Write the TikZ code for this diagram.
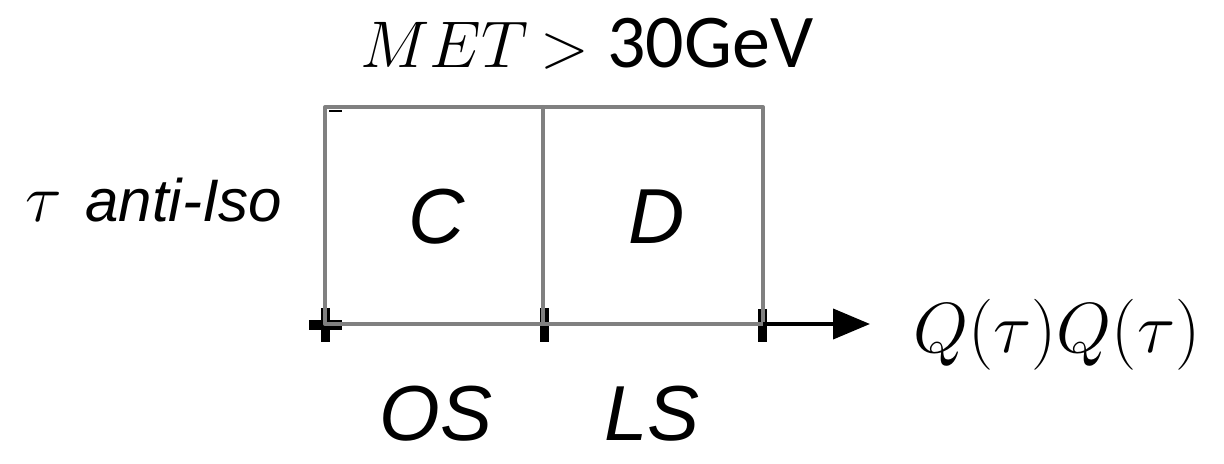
\RequirePackage{fix-cm}
\documentclass[tikz,border=0pt]{standalone}
\usepackage{fontspec}
\usetikzlibrary{arrows.meta}
\newfontfamily\arialfont{Liberation Sans}
\newfontfamily\calibrifont{Carlito}
\begin{document}
\begin{tikzpicture}[x=0.5pt,y=-0.5pt,
  boxline/.style={draw=black!50, line width=2pt, line cap=round, line join=round},
  tickmark/.style={draw=black, line width=4.5pt},
  axisline/.style={draw=black, line width=2pt, -{Triangle[length=18.5pt,width=15pt]}},
  celllabel/.style={font=\fontsize{39pt}{44pt}\selectfont\arialfont\itshape, anchor=base, inner sep=0pt},
  mathlabel/.style={font=\fontsize{34pt}{40pt}\selectfont, anchor=base west, inner sep=0pt}]
\useasboundingbox (0,0) rectangle (1224,464);
% corner coordinates
\coordinate (tl) at (325,107);
\coordinate (tm) at (543,107);
\coordinate (tr) at (763,107);
\coordinate (bl) at (325,324);
\coordinate (bm) at (543,324);
\coordinate (br) at (763,324);
\coordinate (axend) at (870,324);
% ticks
\draw[tickmark] (309,325) -- (342,325);
\draw[tickmark] (325,308) -- (325,342);
\draw[tickmark] (544,308) -- (544,342);
\draw[tickmark] (762,309) -- (762,342);
\draw[draw=black, line width=1.2pt] (329,111) -- (342,111);
% box
\draw[boxline] (bl) -- (tl) -- (tr) -- (br) -- cycle;
\draw[boxline] (tm) -- (bm);
% axis
\draw[axisline] (br) -- (axend);
% labels
\node[celllabel] (C) at (437,244) {C};
\node[celllabel] (D) at (657,244) {D};
\node[celllabel] (OS) at (436,440) {OS};
\node[celllabel] (LS) at (652,440) {LS};
\node[mathlabel] (tau) at (25,222) {$\tau$};
\node[font=\fontsize{30pt}{36pt}\selectfont\arialfont\itshape, anchor=base west, inner sep=0pt] (antiiso) at (85,222) {anti-Iso};
\node[mathlabel, font=\fontsize{35.5pt}{40pt}\selectfont] (Q) at (913,352) {$Q(\tau)Q(\tau)$};
\node[mathlabel, font=\fontsize{33pt}{40pt}\selectfont] (met) at (360,68) {$MET$};
\node[mathlabel, font=\fontsize{32pt}{40pt}\selectfont] (gt) at (540,68) {$>$};
\node[mathlabel, font=\fontsize{38pt}{40pt}\selectfont\calibrifont] (gev) at (607,68) {30GeV};
\end{tikzpicture}
\end{document}
